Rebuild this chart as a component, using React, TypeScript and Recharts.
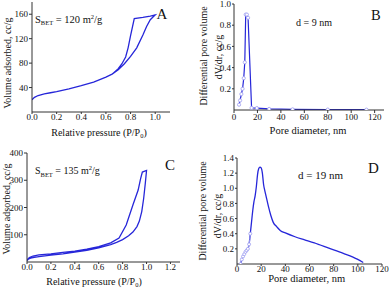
import React from 'react';
import { LineChart, Line, XAxis, YAxis } from 'recharts';

// ---------- Panel A: N2 isotherm, S_BET = 120 m2/g ----------
const pressureA_ads = [0, 0.02, 0.05, 0.1, 0.15, 0.2, 0.3, 0.4, 0.5, 0.6, 0.65, 0.7, 0.75, 0.8, 0.85, 0.9, 0.93, 0.96, 0.98, 1.0];
const volumeA_ads = [20, 24, 27, 29.5, 31.5, 33.5, 38, 43, 49, 57, 62, 69, 79, 91, 105, 126, 140, 151, 155, 159];
const pressureA_des = [1.0, 0.96, 0.9, 0.83, 0.8, 0.78, 0.76, 0.73, 0.7, 0.65];
const volumeA_des = [159, 157, 155, 153, 125, 105, 90, 79, 71, 62];

// ---------- Panel B: pore size distribution, d = 9 nm ----------
const diameterB = [4.3, 5.2, 6.3, 7.3, 8.3, 9.2, 10, 11, 12, 15, 19.5, 30, 50, 80, 113];
const dvdrB = [0.05, 0.09, 0.15, 0.2, 0.3, 0.45, 0.9, 0.9, 0.87, 0.02, 0.018, 0.01, 0.006, 0.004, 0.003];

// ---------- Panel C: N2 isotherm, S_BET = 135 m2/g ----------
const pressureC_ads = [0, 0.01, 0.03, 0.06, 0.1, 0.2, 0.3, 0.4, 0.5, 0.6, 0.7, 0.75, 0.8, 0.85, 0.886, 0.92, 0.94, 0.96, 0.976, 0.99, 1.0];
const volumeC_ads = [5, 10, 14, 17, 20, 25, 30, 36, 43, 52, 64, 72, 82, 96, 110, 130, 150, 185, 233, 290, 336];
const pressureC_des = [1.0, 0.965, 0.95, 0.93, 0.886, 0.83, 0.77, 0.7, 0.6, 0.5, 0.4, 0.3, 0.2, 0.1, 0.05, 0.02, 0];
const volumeC_des = [336, 330, 305, 264, 209, 136, 88, 70, 56, 47, 40, 35, 30, 26, 22, 16, 8];

// ---------- Panel D: pore size distribution, d = 19 nm ----------
const diameterD = [3, 4, 5, 6, 7, 8, 9, 10, 11, 12, 13, 14, 15, 16, 17, 18, 19, 20, 21, 22, 23, 24, 26, 28, 30, 33, 36, 40, 48, 56, 64, 76, 88, 96, 104.5];
const dvdrD = [0, 0.06, 0.1, 0.13, 0.16, 0.18, 0.2, 0.26, 0.4, 0.55, 0.7, 0.82, 0.9, 1.02, 1.18, 1.26, 1.28, 1.27, 1.2, 1.05, 0.97, 0.9, 0.76, 0.64, 0.55, 0.49, 0.44, 0.41, 0.36, 0.32, 0.28, 0.21, 0.14, 0.09, 0.02];
const markedCountD = 9;

// ---------- Tick labels ----------
const ticksIsoA_x = [0, 0.2, 0.4, 0.6, 0.8, 1.0];
const ticksIsoA_y = [40, 80, 120, 160];
const ticksIsoC_x = [0, 0.2, 0.4, 0.6, 0.8, 1.0, 1.2];
const ticksIsoC_y = [100, 200, 300, 400];
const ticksPore_x = [0, 20, 40, 60, 80, 100, 120];
const ticksPoreB_y = [0.2, 0.4, 0.6, 0.8, 1.0];
const ticksPoreD_y = [0.2, 0.4, 0.6, 0.8, 1.0, 1.2, 1.4];

const SERIF = '"Liberation Serif", "Times New Roman", Times, serif';
const BLUE = '#2626d9';
const LIGHT = '#9a9af0';

const pts = (xs: number[], ys: number[]) => xs.map((x, i) => ({ x, y: ys[i] }));

const fmt1 = (v: number) => v.toFixed(1);
const fmt0 = (v: number) => String(v);

type PanelProps = {
  left: number; top: number; width: number; height: number;
  margin: { top: number; right: number; bottom: number; left: number };
  yWidth: number; xHeight: number;
  xDomain: [number, number]; yDomain: [number, number];
  xTicks: number[]; yTicks: number[];
  xFmt: (v: number) => string; yFmt: (v: number) => string;
  xTickSize?: number; xTickMargin?: number; yTickSize?: number; yTickMargin?: number;
  children?: React.ReactNode;
};

function Panel(p: PanelProps) {
  const tickStyle = { fontSize: 9, fill: '#111', fontFamily: SERIF, style: { fontFamily: SERIF } };
  return (
    <div style={{ position: 'absolute', left: p.left, top: p.top }}>
      <LineChart width={p.width} height={p.height} margin={p.margin}>
        <XAxis xAxisId="b" type="number" dataKey="x" domain={p.xDomain} ticks={p.xTicks} tickFormatter={p.xFmt}
          allowDataOverflow height={p.xHeight} tickSize={p.xTickSize ?? 3} tickMargin={p.xTickMargin ?? 1}
          tick={tickStyle} stroke="#333" interval={0} />
        <XAxis xAxisId="t" orientation="top" type="number" dataKey="x" domain={p.xDomain} allowDataOverflow height={0}
          tick={false} tickLine={false} stroke="#999" />
        <YAxis yAxisId="l" type="number" dataKey="y" domain={p.yDomain} ticks={p.yTicks} tickFormatter={p.yFmt}
          allowDataOverflow width={p.yWidth} tickSize={p.yTickSize ?? 3} tickMargin={p.yTickMargin ?? 1}
          tick={tickStyle} stroke="#333" interval={0} />
        <YAxis yAxisId="r" orientation="right" type="number" dataKey="y" domain={p.yDomain} allowDataOverflow width={0}
          tick={false} tickLine={false} stroke="#999" />
        {p.children}
      </LineChart>
    </div>
  );
}

export default function App() {
  const dataA = [...pts(pressureA_ads, volumeA_ads), ...pts(pressureA_des, volumeA_des)];
  const dataC = [...pts(pressureC_ads, volumeC_ads), ...pts(pressureC_des, volumeC_des)];
  const dataB = pts(diameterB, dvdrB);
  const dataD = pts(diameterD, dvdrD);
  const dataDMarked = dataD.slice(0, markedCountD);

  const t = { fill: '#111', style: { fontFamily: SERIF } } as const;

  return (
    <div style={{ position: 'absolute', left: 0, top: 0, width: 390, height: 292, background: '#fff', fontFamily: SERIF }}>
      <Panel left={0} top={0} width={180} height={145} margin={{ top: 2, right: 10, bottom: 0, left: 0 }}
        yWidth={32} xHeight={33} xDomain={[0, 1.12]} yDomain={[0, 180]} xTicks={ticksIsoA_x} yTicks={ticksIsoA_y}
        xFmt={fmt1} yFmt={fmt0} xTickSize={2} xTickMargin={0}>
        <Line xAxisId="b" yAxisId="l" data={dataA} dataKey="y" type="linear" stroke={BLUE} strokeWidth={1.3}
          dot={false} isAnimationActive={false} />
      </Panel>

      <Panel left={195} top={0} width={195} height={145} margin={{ top: 4, right: 6, bottom: 0, left: 0 }}
        yWidth={39} xHeight={35} xDomain={[0, 128]} yDomain={[0, 1]} xTicks={ticksPore_x} yTicks={ticksPoreB_y}
        xFmt={fmt0} yFmt={fmt1} yTickSize={2} yTickMargin={1}>
        <Line xAxisId="b" yAxisId="l" data={dataB} dataKey="y" type="linear" stroke={BLUE} strokeWidth={1.2}
          dot={{ r: 1.6, stroke: LIGHT, strokeWidth: 0.8, fill: '#fff' }} isAnimationActive={false} />
      </Panel>

      <Panel left={0} top={146} width={190} height={146} margin={{ top: 7, right: 10, bottom: 0, left: 0 }}
        yWidth={27} xHeight={30} xDomain={[0, 1.28]} yDomain={[0, 400]} xTicks={ticksIsoC_x} yTicks={ticksIsoC_y}
        xFmt={fmt1} yFmt={fmt0} xTickSize={2} xTickMargin={0}>
        <Line xAxisId="b" yAxisId="l" data={dataC} dataKey="y" type="linear" stroke={BLUE} strokeWidth={1.3}
          dot={false} isAnimationActive={false} />
      </Panel>

      <Panel left={195} top={146} width={195} height={146} margin={{ top: 12, right: 8, bottom: 0, left: 0 }}
        yWidth={42} xHeight={28} xDomain={[0, 120]} yDomain={[0, 1.4]} xTicks={ticksPore_x} yTicks={ticksPoreD_y}
        xFmt={fmt0} yFmt={fmt1} xTickSize={2} xTickMargin={0} yTickSize={2} yTickMargin={1}>
        <Line xAxisId="b" yAxisId="l" data={dataD} dataKey="y" type="monotone" stroke={BLUE} strokeWidth={1.3}
          dot={false} isAnimationActive={false} />
        <Line xAxisId="b" yAxisId="l" data={dataDMarked} dataKey="y" type="monotone" stroke={LIGHT} strokeWidth={1}
          dot={{ r: 1.5, stroke: LIGHT, strokeWidth: 0.8, fill: '#fff' }} isAnimationActive={false} />
      </Panel>

      <svg width={390} height={292} style={{ position: 'absolute', left: 0, top: 0, pointerEvents: 'none' }}>
        {/* Panel A */}
        <text x={35} y={22.5} fontSize={10.5} {...t}>S<tspan dy={2.5} fontSize={6.5}>BET</tspan><tspan dy={-2.5}> = 120 m</tspan><tspan dy={-4} fontSize={6.5}>2</tspan><tspan dy={4}>/g</tspan></text>
        <text x={156.5} y={18.5} fontSize={15} {...t}>A</text>
        <text x={99} y={135.5} fontSize={10} textAnchor="middle" {...t}>Relative pressure (P/P<tspan dy={2} fontSize={6.5}>0</tspan><tspan dy={-2}>)</tspan></text>
        <text transform="translate(7.5,63) rotate(-90)" fontSize={10} textAnchor="middle" dominantBaseline="central" {...t}>Volume adsorbed, cc/g</text>

        {/* Panel B */}
        <text x={296} y={26} fontSize={10} {...t}>d = 9 nm</text>
        <text x={371} y={20} fontSize={14.5} {...t}>B</text>
        <text x={308} y={134} fontSize={10.5} textAnchor="middle" {...t}>Pore diameter, nm</text>
        <text transform="translate(203.5,56) rotate(-90)" fontSize={10} textAnchor="middle" dominantBaseline="central" {...t}>Differential pore volume</text>
        <text transform="translate(218,57) rotate(-90)" fontSize={10} textAnchor="middle" dominantBaseline="central" {...t}>dV/dr, cc/g</text>

        {/* Panel C */}
        <text x={35} y={174} fontSize={10} {...t}>S<tspan dy={2.5} fontSize={6.5}>BET</tspan><tspan dy={-2.5}> = 135 m</tspan><tspan dy={-4} fontSize={6.5}>2</tspan><tspan dy={4}>/g</tspan></text>
        <text x={165} y={169.5} fontSize={15} {...t}>C</text>
        <text x={94} y={284.5} fontSize={10} textAnchor="middle" {...t}>Relative pressure (P/P<tspan dy={2} fontSize={6.5}>0</tspan><tspan dy={-2}>)</tspan></text>
        <text transform="translate(6.7,209) rotate(-90)" fontSize={10} textAnchor="middle" dominantBaseline="central" {...t}>Volume adsorbed, cc/g</text>

        {/* Panel D */}
        <text x={298} y={178.5} fontSize={11} {...t}>d = 19 nm</text>
        <text x={368} y={172.5} fontSize={15} {...t}>D</text>
        <text x={306.7} y={282} fontSize={10.5} textAnchor="middle" {...t}>Pore diameter, nm</text>
        <text transform="translate(202.5,211) rotate(-90)" fontSize={10} textAnchor="middle" dominantBaseline="central" {...t}>Differential pore volume</text>
        <text transform="translate(217.5,216) rotate(-90)" fontSize={10} textAnchor="middle" dominantBaseline="central" {...t}>dV/dr, cc/g</text>
      </svg>
    </div>
  );
}
